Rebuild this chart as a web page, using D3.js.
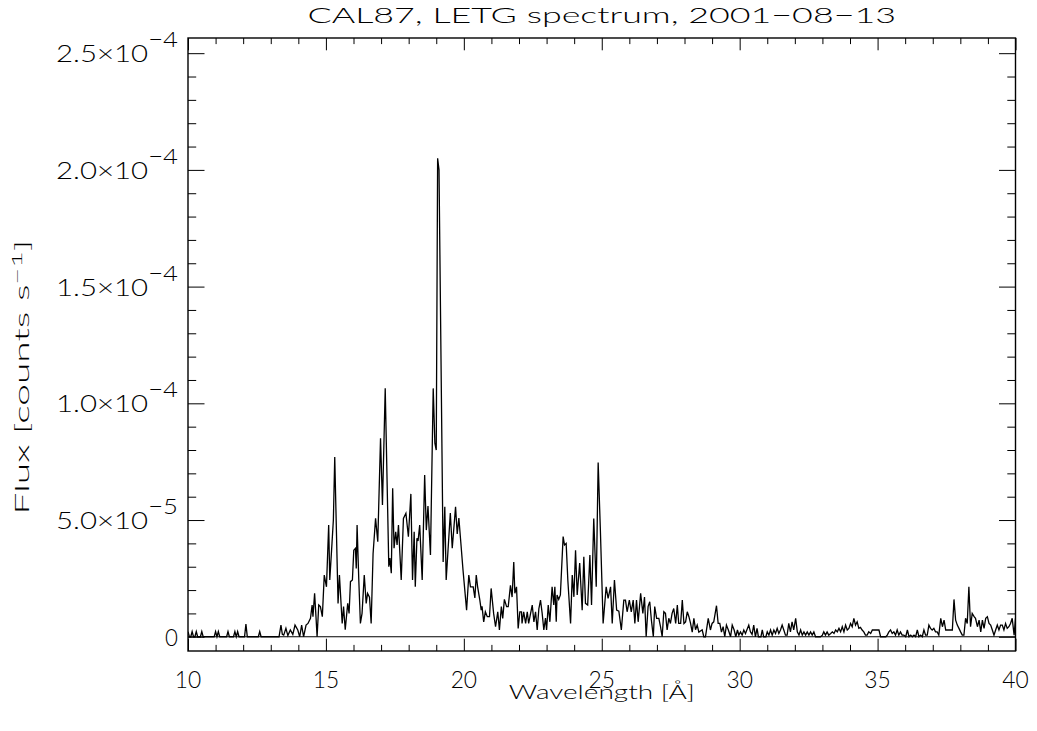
<!DOCTYPE html>
<html>
<head>
<meta charset="utf-8">
<script src="https://cdn.jsdelivr.net/npm/d3@7"></script>
<style>
  body { margin: 0; background: #fff; }
  svg text { font-family: "Lato", "Roboto", sans-serif; font-weight: 300; fill: #000; }
</style>
</head>
<body>
<svg id="chart" width="1037" height="731"></svg>
<script>
// Labels and ticks
const titleText = "CAL87, LETG spectrum, 2001\u221208\u221213";
const xTitle = "Wavelength [\u00C5]";
const yTitleMain = "Flux [counts s";
const yTitleSup = "\u22121";
const yTitleEnd = "]";
const xTickValues = [10, 15, 20, 25, 30, 35, 40];
const xTickLabels = ["10", "15", "20", "25", "30", "35", "40"];
const yTickValues = [0, 5e-5, 1e-4, 1.5e-4, 2e-4, 2.5e-4];
const yTickMantissa = ["0", "5.0", "1.0", "1.5", "2.0", "2.5"];
const yTickExponent = ["", "\u22125", "\u22124", "\u22124", "\u22124", "\u22124"];

// Spectrum: wavelength in Angstrom, flux in units of 1e-6 counts/s
const fluxUnit = 1e-6;
const wavelength = [
  10.00,10.05,10.10,10.15,10.20,10.25,10.30,10.35,10.45,10.50,
  10.55,10.95,11.00,11.05,11.10,11.15,11.40,11.45,11.50,11.65,
  11.70,11.75,11.80,11.85,12.05,12.10,12.15,12.55,12.60,12.65,
  13.30,13.37,13.42,13.47,13.55,13.62,13.71,13.80,13.88,13.98,
  14.05,14.12,14.19,14.28,14.35,14.44,14.50,14.53,14.59,14.64,
  14.68,14.74,14.80,14.87,14.94,15.02,15.10,15.14,15.22,15.27,
  15.32,15.44,15.49,15.59,15.64,15.70,15.79,15.84,15.89,15.96,
  16.01,16.07,16.10,16.13,16.19,16.25,16.31,16.39,16.46,16.51,
  16.58,16.64,16.71,16.80,16.88,16.98,17.05,17.15,17.28,17.32,
  17.37,17.42,17.47,17.53,17.58,17.63,17.73,17.81,17.90,17.99,
  18.08,18.14,18.20,18.24,18.30,18.34,18.40,18.49,18.58,18.64,
  18.70,18.79,18.89,18.95,19.00,19.05,19.10,19.25,19.31,19.36,
  19.51,19.58,19.70,19.76,19.82,19.88,19.97,20.10,20.18,20.24,
  20.34,20.40,20.45,20.50,20.58,20.63,20.66,20.72,20.78,20.85,
  20.93,20.99,21.08,21.15,21.23,21.29,21.36,21.41,21.47,21.55,
  21.61,21.69,21.75,21.81,21.85,21.91,21.97,22.03,22.09,22.11,
  22.17,22.24,22.30,22.35,22.42,22.48,22.54,22.60,22.66,22.72,
  22.78,22.84,22.90,22.96,23.00,23.06,23.12,23.20,23.26,23.30,
  23.35,23.38,23.44,23.50,23.60,23.65,23.71,23.77,23.87,23.93,
  23.99,24.05,24.11,24.20,24.29,24.35,24.41,24.49,24.57,24.63,
  24.71,24.80,24.87,24.95,25.05,25.16,25.23,25.32,25.38,25.46,
  25.54,25.62,25.71,25.80,25.86,25.92,26.00,26.07,26.14,26.20,
  26.26,26.32,26.41,26.49,26.55,26.61,26.68,26.74,26.80,26.87,
  26.92,26.99,27.07,27.13,27.19,27.25,27.31,27.37,27.43,27.49,
  27.55,27.61,27.68,27.74,27.79,27.86,27.92,27.98,28.04,28.10,
  28.16,28.22,28.28,28.34,28.40,28.46,28.52,28.58,28.64,28.70,
  28.76,28.86,28.94,29.00,29.06,29.16,29.22,29.28,29.34,29.40,
  29.46,29.52,29.59,29.67,29.73,29.80,29.86,29.92,29.97,30.03,
  30.09,30.15,30.21,30.33,30.39,30.45,30.51,30.57,30.63,30.68,
  30.77,30.82,30.87,30.95,31.00,31.06,31.12,31.18,31.24,31.30,
  31.36,31.42,31.48,31.54,31.60,31.66,31.72,31.78,31.84,31.90,
  31.96,32.03,32.09,32.15,32.21,32.27,32.33,32.39,32.45,32.51,
  32.57,32.63,32.69,32.75,32.93,33.00,33.05,33.11,33.17,33.23,
  33.30,33.36,33.42,33.48,33.54,33.60,33.66,33.72,33.78,33.84,
  33.90,33.96,34.02,34.08,34.14,34.20,34.26,34.32,34.38,34.44,
  34.50,34.56,34.62,34.68,34.75,34.81,34.87,34.93,35.00,35.05,
  35.11,35.30,35.35,35.41,35.47,35.53,35.59,35.65,35.71,35.77,
  35.83,35.89,35.95,36.02,36.08,36.14,36.20,36.26,36.32,36.38,
  36.44,36.50,36.56,36.62,36.68,36.74,36.80,36.86,36.92,36.98,
  37.04,37.10,37.16,37.22,37.29,37.35,37.41,37.47,37.53,37.59,
  37.65,37.71,37.77,37.83,37.89,37.95,38.01,38.07,38.13,38.19,
  38.25,38.31,38.37,38.43,38.50,38.55,38.62,38.68,38.74,38.80,
  38.86,38.92,38.98,39.04,39.10,39.16,39.22,39.28,39.34,39.40,
  39.46,39.52,39.58,39.64,39.70,39.76,39.82,39.88,39.95,40.00
];
const flux = [
  2.2,0,0,2.2,0,0,2.2,0,0,2.2,
  0,0,2.2,0,2.2,0,0,2.2,0,0,
  2.2,0,2.2,0,0,5.4,0,0,2.2,0,
  0,5.0,1.0,0.7,3.6,0.5,2.9,1.0,5.0,2.9,
  0,5.0,0,5.0,5.7,7.9,13.6,8.6,18.6,8.6,
  0,13.6,12.9,8.6,26.4,21.4,47.9,24.3,40,50,
  77,14.3,26.4,5.7,12.9,3.0,14.3,10,23.6,24.3,
  37.1,37.9,29.2,47.9,25,5.7,10,26.4,14.3,18.6,
  17,5.7,35.7,50.7,40.7,85,56.4,106.4,30,33.7,
  27.2,63.6,37.9,45,39.3,47.9,24.3,50.7,52.9,42.9,
  61.2,24.3,45,21.4,42.2,41,47.9,24.3,69.3,45.7,
  56,35,106.4,82.9,80,205,200,32,55.7,24.3,
  53,37.9,55.7,44,50.8,42,28.6,11.4,26.4,21.4,
  21.4,16.6,26.4,21.4,15.7,11.4,13,6.4,10.7,8.6,
  8.6,20.7,10,4.3,10.7,2.9,12.9,7.9,16,12.9,
  12.9,22,17,32,18.6,21.4,3.6,10.7,10.7,5.7,
  10.7,5.7,10.7,5.7,10,13.6,6.4,10.7,2.9,12,
  15.7,10,2.9,8,2.9,13.6,6.4,21.4,13.6,21.4,
  6.4,17.9,16,17.9,42.9,39.3,40,24.3,5.7,26.4,
  17.1,37.1,17.9,31.6,11.4,34.3,14.3,13.6,35,13.6,
  50.7,21.4,74.6,45.7,5.7,21.4,16.4,21.4,5.7,24.3,
  11.4,11,2.9,15.7,15.7,10.7,15.7,10.7,15.7,5.7,
  15.7,6.4,18.6,10,17,0,12.9,15,7.1,0,
  12.9,7.9,7.9,4.3,0,10.7,10,2.9,7.9,5.7,
  10,12.1,5.7,13.6,5.7,5.7,15.7,5.7,6.4,10.7,
  8.6,5.7,2,7.9,3,5,2,2.5,3,0,
  0,7.9,2.9,5.7,6.4,13.3,5.7,5.7,2,4.3,
  0,5,2.9,0,5,2.9,0,2.9,0.7,2.1,
  0.7,2.9,1.4,5.0,2.1,1,5.0,0,3.6,0,
  0,3,0,0,2.1,0.7,2.9,0.7,2.9,1.4,
  3.6,1.4,2.9,5,2.9,0.7,0.7,5.7,2.1,6.4,
  2.9,7.9,2.1,0.7,2.9,0.7,2.1,0.7,2.1,0.7,
  2.1,0.7,2.1,0,0,0.7,2.1,0.7,2.1,0.7,
  1.4,2.1,1.4,2.9,2.1,3.6,2.1,4.3,2.1,5,
  2.9,3.6,5.7,4.3,7.9,5,6.4,3.6,4,2.9,
  2.1,0.7,0.7,2.1,1.4,2.9,2.9,2.9,2.9,2.9,
  0,0,0.7,2.1,2.9,1.4,2.1,0.7,2.9,0.7,
  2.1,0.7,0.7,0,2.9,0,0.7,0,0.7,0,
  2.9,0,0.7,0,2.9,0.7,0.7,5,3.6,2.9,
  3.6,2.1,2.1,0.7,7.9,4.3,7.1,2.9,2.9,2.9,
  2.9,2.9,16,7.1,5,3.6,2.1,0.7,0.7,7.9,
  5.7,21.4,4.3,10,8.6,7.9,4.3,7.1,2.1,7.1,
  3.6,7.9,8.6,5.7,5,2.9,0.7,2.9,5,2.9,
  5,5,2.9,5.7,3.6,4.3,5.7,7.9,0.7,7.9
];

const W = 1037, H = 731;
const margin = { top: 38, right: 21.5, bottom: 80, left: 188 };
const plotW = W - margin.left - margin.right;
const plotH = H - margin.top - margin.bottom;

const svg = d3.select("#chart");

const x = d3.scaleLinear().domain([10, 40]).range([margin.left, W - margin.right]);
const y = d3.scaleLinear().domain([-6.1e-6, 2.565e-4]).range([H - margin.bottom, margin.top]);

const points = wavelength.map((w, i) => ({ w, f: flux[i] * fluxUnit }));

// Stretch a text group horizontally so that its drawn width equals `target`
function fitWidth(g, target) {
  const w = g.node().getBBox().width;
  if (w > 0) g.attr("transform", (g.attr("transform") || "") + ` scale(${target / w},1)`);
}

// Major and minor tick positions
const xMinor = d3.range(10, 40.001, 1).filter(v => v % 5 !== 0);
const yMinor = d3.range(0, 2.5001e-4, 1e-5).filter((v, i) => i % 5 !== 0);
const xMajorLen = 12.3, xMinorLen = 6.1, yMajorLen = 16.5, yMinorLen = 8.2;

function styleAxis(g) {
  g.select(".domain").remove();
  g.selectAll(".tick line").attr("stroke", "#000").attr("stroke-width", 1);
  g.selectAll(".tick text").remove();
}

// Ticks on all four sides, pointing into the plot
svg.append("g").attr("transform", `translate(0,${H - margin.bottom})`)
  .call(d3.axisBottom(x).tickValues(xTickValues).tickSize(-xMajorLen)).call(styleAxis);
svg.append("g").attr("transform", `translate(0,${H - margin.bottom})`)
  .call(d3.axisBottom(x).tickValues(xMinor).tickSize(-xMinorLen)).call(styleAxis);
svg.append("g").attr("transform", `translate(0,${margin.top})`)
  .call(d3.axisTop(x).tickValues(xTickValues).tickSize(-xMajorLen)).call(styleAxis);
svg.append("g").attr("transform", `translate(0,${margin.top})`)
  .call(d3.axisTop(x).tickValues(xMinor).tickSize(-xMinorLen)).call(styleAxis);
svg.append("g").attr("transform", `translate(${margin.left},0)`)
  .call(d3.axisLeft(y).tickValues(yTickValues).tickSize(-yMajorLen)).call(styleAxis);
svg.append("g").attr("transform", `translate(${margin.left},0)`)
  .call(d3.axisLeft(y).tickValues(yMinor).tickSize(-yMinorLen)).call(styleAxis);
svg.append("g").attr("transform", `translate(${W - margin.right},0)`)
  .call(d3.axisRight(y).tickValues(yTickValues).tickSize(-yMajorLen)).call(styleAxis);
svg.append("g").attr("transform", `translate(${W - margin.right},0)`)
  .call(d3.axisRight(y).tickValues(yMinor).tickSize(-yMinorLen)).call(styleAxis);

// Zero level
svg.append("line")
  .attr("x1", x(10)).attr("x2", x(40))
  .attr("y1", y(0)).attr("y2", y(0))
  .attr("stroke", "#000").attr("stroke-width", 1.2);

// Spectrum
svg.append("clipPath").attr("id", "plot-clip")
  .append("rect").attr("x", margin.left).attr("y", margin.top)
  .attr("width", plotW).attr("height", plotH);

const line = d3.line().x(d => x(d.w)).y(d => y(d.f));
svg.append("path")
  .datum(points)
  .attr("clip-path", "url(#plot-clip)")
  .attr("fill", "none")
  .attr("stroke", "#000")
  .attr("stroke-width", 1.3)
  .attr("stroke-linejoin", "miter")
  .attr("d", line);

// Frame
svg.append("rect")
  .attr("x", margin.left).attr("y", margin.top)
  .attr("width", plotW).attr("height", plotH)
  .attr("fill", "none").attr("stroke", "#000").attr("stroke-width", 1.4);

// X tick labels
svg.append("g").selectAll("g")
  .data(xTickValues)
  .join("g")
  .attr("transform", d => `translate(${x(d)},${H - margin.bottom + 37})`)
  .each(function (d, i) {
    const g = d3.select(this);
    g.append("text").attr("text-anchor", "middle").attr("font-size", 24).text(xTickLabels[i]);
    fitWidth(g, 26.5);
  });

// Y tick labels with power-of-ten exponent, right-aligned next to the axis
svg.append("g").selectAll("g")
  .data(yTickValues)
  .join("g")
  .attr("transform", d => `translate(${margin.left - 10},${y(d) + 9})`)
  .each(function (d, i) {
    const g = d3.select(this);
    const t = g.append("text").attr("text-anchor", "end").attr("font-size", 24);
    if (i === 0) {
      t.text("0");
      fitWidth(g, 13);
    } else {
      t.append("tspan").text(yTickMantissa[i] + "\u00D710");
      t.append("tspan").attr("dy", -15).attr("font-size", 21).text(yTickExponent[i]);
      fitWidth(g, 122);
    }
  });

// Title
const titleG = svg.append("g").attr("transform", `translate(${(margin.left + W - margin.right) / 2},22.5)`);
titleG.append("text").attr("text-anchor", "middle").attr("font-size", 22.5).text(titleText);
fitWidth(titleG, 589);

// X title
const xtG = svg.append("g").attr("transform", `translate(${(margin.left + W - margin.right) / 2},699)`);
xtG.append("text").attr("text-anchor", "middle").attr("font-size", 20).text(xTitle);
fitWidth(xtG, 186);

// Y title
const ytG = svg.append("g").attr("transform", `translate(29,377) rotate(-90)`);
const yt = ytG.append("text").attr("text-anchor", "middle").attr("font-size", 19);
yt.append("tspan").text(yTitleMain);
yt.append("tspan").attr("dy", -7).attr("font-size", 14).text(yTitleSup);
yt.append("tspan").attr("dy", 7).text(yTitleEnd);
fitWidth(ytG, 275);
</script>
</body>
</html>
